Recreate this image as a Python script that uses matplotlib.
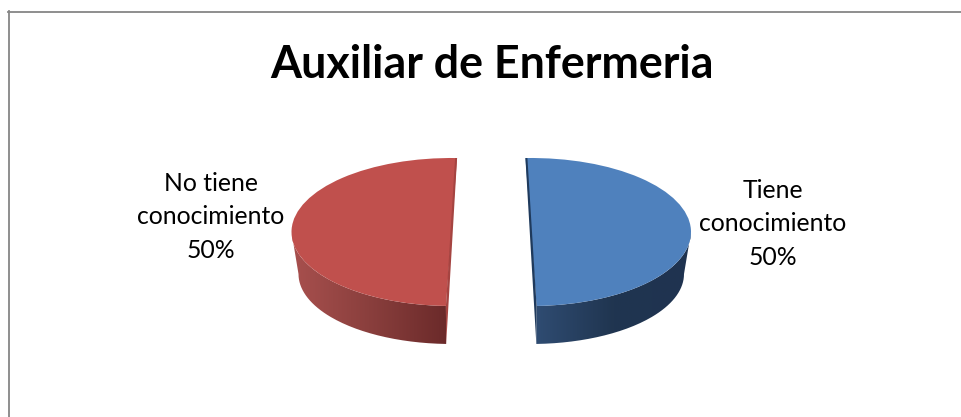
#!/usr/bin/env python3
from __future__ import annotations

import matplotlib

matplotlib.use("Agg")
import matplotlib.pyplot as plt
import numpy as np
from matplotlib.colors import LinearSegmentedColormap
from matplotlib.lines import Line2D
from matplotlib.patches import PathPatch, Polygon
from matplotlib.path import Path

TITLE = "Auxiliar de Enfermeria"
categories = ["Tiene\nconocimiento", "No tiene\nconocimiento"]
values = [50, 50]

W, H = 961, 417
RADIUS = 160
SQUASH = 74 / 160  # vertical flattening of the tilted pie

plt.rcParams["font.family"] = ["Lato", "DejaVu Sans"]


def py(y_px: float) -> float:
    # pixel row in the picture to data y
    return (H - y_px) / SQUASH


def arc(cx, cy_px, a, b, t1, t2):
    t = np.radians(np.linspace(t1, t2, 80))
    return np.column_stack([cx + a * np.cos(t), py(cy_px + b * np.sin(-t))])


# slice index, centre x, start angle, top colour, wall gradient, inner face colour
slices = [
    (0, 531, 92, False, "#4f81bd", ["#2f4c72", "#203550", "#1f3350"], "#1f3a5c"),
    (1, 451.5, -92, True, "#c0504d", ["#a8504e", "#8a3f3d", "#6b2a2a"], "#a54441"),
]

fig = plt.figure(figsize=(W / 100, H / 100), dpi=100)
ax = fig.add_axes([0, 0, 1, 1])

for idx, cx, start, ccw, top, wall, inner in slices:
    colors = ["none", "none"]
    colors[idx] = top
    wedges, _ = ax.pie(
        values,
        colors=colors,
        startangle=start,
        counterclock=ccw,
        center=(cx, py(232)),
        radius=RADIUS,
    )
    w = wedges[idx]
    w.set_zorder(5)
    w.set_edgecolor("none")

    # outer wall: only the part of the rim facing the viewer
    if cx > 500:
        t1, t2 = w.theta1, 0
    else:
        t1, t2 = 180, w.theta2
    rim = arc(cx, 232, RADIUS, 74, t1, t2)
    low = arc(cx, 274, 153, 70, t2, t1)
    verts = np.vstack([rim, low, rim[:1]])
    clip = PathPatch(Path(verts), facecolor="none", edgecolor="none", transform=ax.transData)
    ax.add_patch(clip)
    cmap = LinearSegmentedColormap.from_list("wall", wall)
    x0, x1 = verts[:, 0].min(), verts[:, 0].max()
    y0, y1 = verts[:, 1].min(), verts[:, 1].max()
    im = ax.imshow(
        np.linspace(0, 1, 256).reshape(1, -1),
        cmap=cmap,
        extent=(x0, x1, y0, y1),
        aspect="auto",
        interpolation="bilinear",
        zorder=3,
    )
    im.set_clip_path(clip)

    # cut face seen as a thin sliver next to the straight edge
    t_far = w.theta2 if cx > 500 else w.theta1
    t_near = w.theta1 if cx > 500 else w.theta2
    nudge = 2 if cx > 500 else -2
    far = arc(cx, 232, RADIUS, 74, t_far, t_far)[0]
    near = arc(cx, 232, RADIUS, 74, t_near, t_near)[0]
    foot = arc(cx, 274, 153, 70, t_near, t_near)[0]
    # top corner of the wedge sits inside the sliver, so the face overlaps the top surface there
    ax.add_patch(Polygon([far, far + [nudge, 0], near, foot], closed=True, facecolor=inner, edgecolor="none", zorder=6))

ax.set_aspect("auto")
ax.set_xlim(0, W)
ax.set_ylim(0, H / SQUASH)
ax.axis("off")

ax.text(491.5, py(65), TITLE, fontsize=32.2, fontweight="bold", ha="center", va="center", color="black")

total = sum(values)
label_pos = [(773, 224), (211, 217)]
for name, v, (lx, ly) in zip(categories, values, label_pos):
    txt = f"{name}\n{v / total:.0%}"
    ax.text(lx, py(ly), txt, fontsize=17.8, ha="center", va="center", color="black", linespacing=1.57, multialignment="center")

# chart frame, only left and top edges are inside the crop
edge = "#868686"
fig.add_artist(Line2D([8.5 / W, 8.5 / W], [0, 1 - 11 / H], color=edge, linewidth=1.3))
fig.add_artist(Line2D([8 / W, 1], [1 - 11.5 / H, 1 - 11.5 / H], color=edge, linewidth=1.3))

fig.savefig("out.png", dpi=100)
plt.close(fig)
